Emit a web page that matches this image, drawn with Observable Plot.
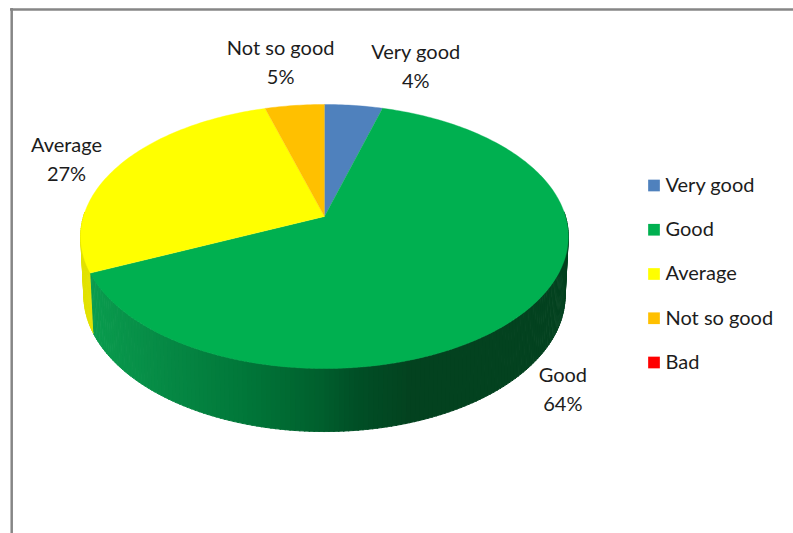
<!DOCTYPE html>
<html>
<head>
<meta charset="utf-8">
<script src="https://cdn.jsdelivr.net/npm/d3@7"></script>
<script src="https://cdn.jsdelivr.net/npm/@observablehq/plot@0.6"></script>
<style>
html,body{margin:0;padding:0;background:#fff}
svg{display:block}
</style>
</head>
<body>
<div id="chart"></div>
<script>
// ---- data
const categories = ["Very good", "Good", "Average", "Not so good", "Bad"];
const shares = [4.45, 63.8, 27.2, 4.55, 0];
const colors = ["#4f81bd", "#00b050", "#ffff00", "#ffc000", "#ff0000"];

// ---- layout of the tilted disc (perspective view of a circle)
const W = 793, H = 533;
const cx = 324, cy = 216, k = 0.1515, a = 129, b = 241;
const rim = t => {
  const d = 1 + k * Math.cos(t);
  return [cx + b * Math.sin(t) / d, cy - a * Math.cos(t) / d];
};
const base = ([x, y]) => [cx + (x - cx) * 0.987, y + 51.5 + 0.03125 * y];
const rad = d => d * Math.PI / 180;
const pct = d3.format(".0f");

const data = categories.map((name, i) => ({name, share: shares[i], color: colors[i]}));
const arcs = d3.pie().value(d => d.share).sort(null)(data).filter(s => s.data.share > 0);

// top faces
const faces = arcs.flatMap(s => {
  const n = Math.max(2, Math.ceil((s.endAngle - s.startAngle) / rad(1)));
  const pts = [{x: cx, y: cy, id: s.data.name, color: s.data.color}];
  for (let i = 0; i <= n; i++) {
    const [x, y] = rim(s.startAngle + (s.endAngle - s.startAngle) * i / n);
    pts.push({x, y, id: s.data.name, color: s.data.color});
  }
  return pts;
});

// side wall, shaded from left to right
const greenShade = d3.scaleLinear()
  .domain([90, 160, 250, 320, 355, 410, 570])
  .range(["#0a9c4e", "#068a45", "#007538", "#005f2d", "#004f26", "#03421f", "#03421f"])
  .clamp(true);
const shadeOf = {
  "Very good": () => "#3a6090",
  "Good": greenShade,
  "Average": () => "#e2e200",
  "Not so good": () => "#c89600"
};
const side = arcs.flatMap(s => {
  const from = Math.max(s.startAngle, rad(88)), to = Math.min(s.endAngle, rad(272));
  const out = [];
  for (let t = from; t < to; t += rad(1)) {
    const t2 = Math.min(t + rad(1.2), to);
    const p1 = rim(t), p2 = rim(t2), q1 = base(p1), q2 = base(p2);
    const id = s.data.name + t;
    const color = shadeOf[s.data.name]((p1[0] + p2[0]) / 2);
    for (const [x, y] of [p1, p2, q2, q1]) out.push({x, y, id, color});
  }
  return out;
});

// slice labels, placed relative to the rim at each slice's middle
const nudges = {
  "Very good": [62, -41],
  "Good": [36, 77],
  "Average": [-52, -9],
  "Not so good": [-14, -45]
};
const labels = arcs.map(s => {
  const [x, y] = rim((s.startAngle + s.endAngle) / 2);
  const [dx, dy] = nudges[s.data.name];
  return {x: x + dx, y: y + dy, text: `${s.data.name}\n${pct(s.data.share)}%`};
});

// legend
const legendY = d3.scalePoint(categories, [185, 362]);
const legend = data.map(d => ({...d, y: legendY(d.name)}));
const font = "Lato, 'Open Sans', sans-serif";

const chart = Plot.plot({
  width: W, height: H,
  margin: 0,
  x: {domain: [0, W], range: [0, W], axis: null},
  y: {domain: [0, H], range: [0, H], axis: null},
  style: {background: "#fff"},
  marks: [
    Plot.ruleY([9], {x1: 10, x2: W, stroke: "#868686", strokeWidth: 2.5}),
    Plot.ruleX([11.2], {y1: 8, y2: H, stroke: "#868686", strokeWidth: 2.5}),
    Plot.line(side, {x: "x", y: "y", z: "id", fill: "color", stroke: "color", strokeWidth: 0.9}),
    Plot.line(faces, {x: "x", y: "y", z: "id", fill: "color", stroke: "color", strokeWidth: 0.4}),
    Plot.text(labels, {x: "x", y: "y", text: "text", fontSize: 20, lineHeight: 1.45,
      fontFamily: font, fill: "#1c1c1c", textAnchor: "middle"}),
    Plot.dot(legend, {x: 653.5, y: "y", symbol: "square", r: 6.6, fill: "color", stroke: "none"}),
    Plot.text(legend, {x: 665, y: "y", text: "name", fontSize: 20, fontFamily: font,
      fill: "#1c1c1c", textAnchor: "start"})
  ]
});
document.getElementById("chart").append(chart);
</script>
</body>
</html>
